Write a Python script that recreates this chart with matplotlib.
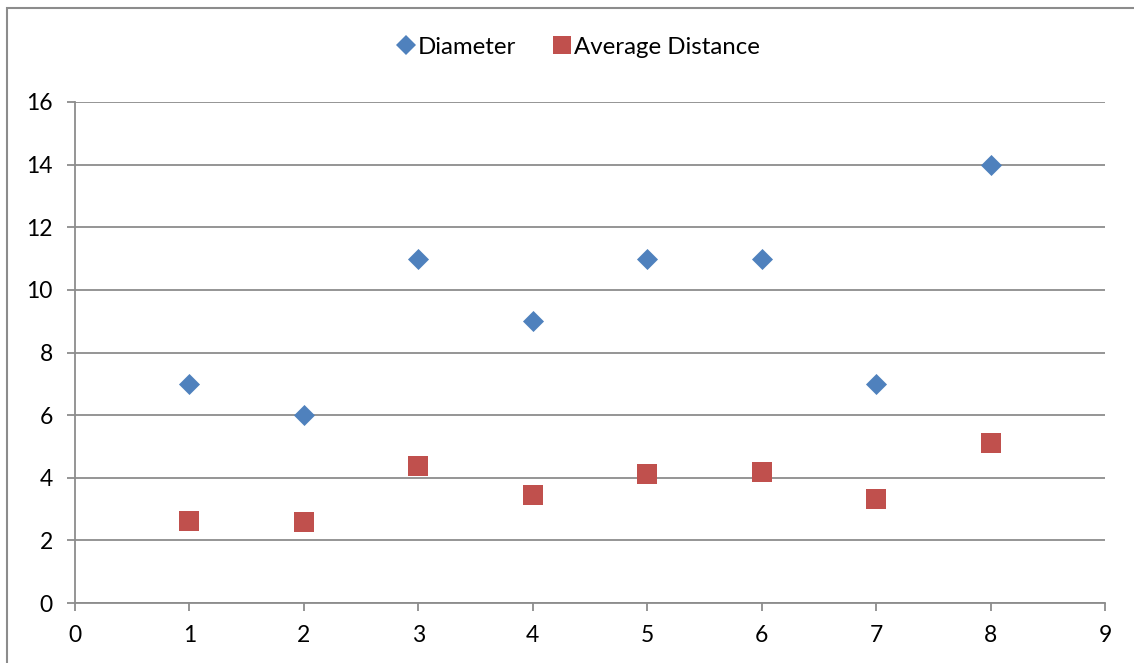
import matplotlib.pyplot as plt
from matplotlib.lines import Line2D
from matplotlib.patches import Rectangle

# data
x_vals = [1, 2, 3, 4, 5, 6, 7, 8]
diameter = [7, 6, 11, 9, 11, 11, 7, 14]
avg_distance = [2.63, 2.58, 4.36, 3.45, 4.13, 4.17, 3.32, 5.10]
x_ticks = list(range(0, 10))
y_ticks = list(range(0, 17, 2))

blue = '#4F81BD'
red = '#C0504D'
grey = '#8c8c8c'

plt.rcParams['font.family'] = ['Lato', 'DejaVu Sans']

fig = plt.figure(figsize=(11.34, 6.63), dpi=100)
ax = fig.add_axes([75 / 1134, 1 - 603 / 663, 1030 / 1134, 501 / 663])

# chart area border, Excel style (right/bottom edges are cut off)
fig.patches.append(Rectangle((7 / 1134, -0.05), 1.2, 1 - 8 / 663 + 0.05,
                             transform=fig.transFigure, fill=False,
                             edgecolor=grey, linewidth=1.5))

ax.scatter(x_vals, diameter, marker='D', s=115, color=blue,
           zorder=3, linewidths=0)
ax.scatter(x_vals, avg_distance, marker='s', s=215, color=red,
           zorder=3, linewidths=0)

ax.set_xlim(0, 9)
ax.set_ylim(0, 16)
ax.set_xticks(x_ticks)
ax.set_yticks(y_ticks)
ax.yaxis.grid(True, color=grey, linewidth=1.3)
ax.set_axisbelow(True)

for side in ['top', 'right']:
    ax.spines[side].set_visible(False)
for side in ['left', 'bottom']:
    ax.spines[side].set_color(grey)
    ax.spines[side].set_linewidth(1.3)

ax.tick_params(axis='both', colors=grey, labelcolor='black',
               labelsize=16.5, length=6, width=1.3, direction='out')
ax.tick_params(axis='y', pad=10)
ax.tick_params(axis='x', pad=10)

handles = [
    Line2D([], [], marker='D', linestyle='none', markersize=10,
           markerfacecolor=blue, markeredgewidth=0, label='Diameter'),
    Line2D([], [], marker='s', linestyle='none', markersize=13,
           markerfacecolor=red, markeredgewidth=0, label='Average Distance'),
]
fig.legend(handles=handles, loc='center', bbox_to_anchor=(578 / 1134, 1 - 47 / 663),
           ncol=2, frameon=False, fontsize=17.3, handlelength=0.8,
           handletextpad=0.1, columnspacing=1.5)

fig.savefig('out.png', dpi=100)
